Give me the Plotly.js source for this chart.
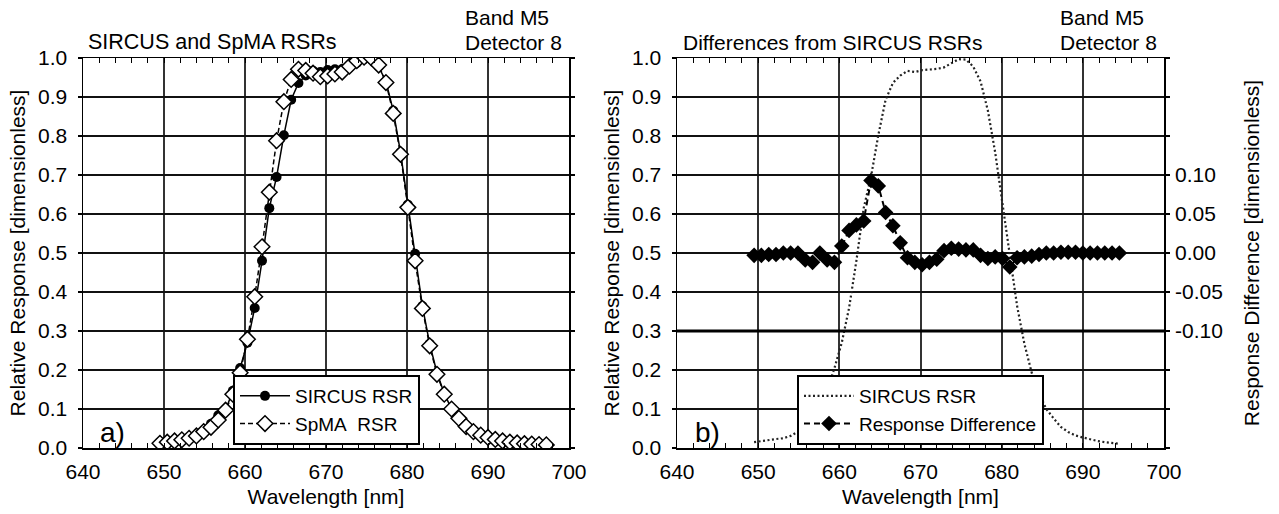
<!DOCTYPE html>
<html>
<head>
<meta charset="utf-8">
<script src="https://cdn.plot.ly/plotly-3.0.1.min.js"></script>
<style>html,body{margin:0;padding:0;background:#fff;}#chart{width:1279px;height:514px;}</style>
</head>
<body>
<div id="chart"></div>
<script>
// Wavelengths (nm) for SIRCUS RSR and response difference
const wavelength = [649.5, 650.4, 651.3, 652.2, 653.1, 654.0, 654.9, 655.8, 656.7, 657.6,
  658.5, 659.4, 660.3, 661.2, 662.1, 663.0, 663.9, 664.8, 665.7, 666.6,
  667.5, 668.4, 669.3, 670.2, 671.1, 672.0, 672.9, 673.8, 674.7, 675.6,
  676.5, 677.4, 678.3, 679.2, 680.1, 681.0, 681.9, 682.8, 683.7, 684.6,
  685.5, 686.4, 687.3, 688.2, 689.1, 690.0, 690.9, 691.8, 692.7, 693.6, 694.5];

// Wavelengths (nm) for SpMA RSR (extends slightly further)
const wavelengthSpMA = [649.5, 650.4, 651.3, 652.2, 653.1, 654.0, 654.9, 655.8, 656.7, 657.6,
  658.5, 659.4, 660.3, 661.2, 662.1, 663.0, 663.9, 664.8, 665.7, 666.6,
  667.5, 668.4, 669.3, 670.2, 671.1, 672.0, 672.9, 673.8, 674.7, 675.6,
  676.5, 677.4, 678.3, 679.2, 680.1, 681.0, 681.9, 682.8, 683.7, 684.6,
  685.5, 686.4, 687.3, 688.2, 689.1, 690.0, 690.9, 691.8, 692.7, 693.6, 694.5,
  695.4, 696.3, 697.2];

// SIRCUS relative spectral response
const sircusRSR = [0.015, 0.018, 0.020, 0.023, 0.025, 0.031, 0.042, 0.062, 0.084, 0.097,
  0.147, 0.205, 0.270, 0.359, 0.480, 0.615, 0.695, 0.802, 0.893, 0.936,
  0.955, 0.967, 0.964, 0.969, 0.971, 0.972, 0.976, 0.987, 0.997, 0.996,
  0.978, 0.940, 0.865, 0.758, 0.624, 0.498, 0.364, 0.267, 0.193, 0.140,
  0.100, 0.076, 0.054, 0.041, 0.032, 0.027, 0.022, 0.018, 0.015, 0.013, 0.011];

// SpMA relative spectral response
const spmaRSR = [0.012, 0.015, 0.018, 0.021, 0.025, 0.031, 0.042, 0.053, 0.072, 0.097,
  0.138, 0.193, 0.279, 0.388, 0.516, 0.656, 0.788, 0.888, 0.945, 0.971,
  0.968, 0.961, 0.952, 0.954, 0.959, 0.964, 0.979, 0.993, 1.002, 1.000,
  0.982, 0.937, 0.858, 0.753, 0.617, 0.480, 0.358, 0.262, 0.189, 0.138,
  0.100, 0.076, 0.055, 0.042, 0.033, 0.027, 0.022, 0.018, 0.015, 0.013, 0.011,
  0.010, 0.009, 0.008];

// Response difference (SpMA - SIRCUS)
const responseDiff = [-0.003, -0.003, -0.002, -0.002, 0.000, 0.000, 0.000, -0.009, -0.012, 0.000,
  -0.009, -0.012, 0.009, 0.029, 0.036, 0.041, 0.093, 0.086, 0.052, 0.035,
  0.013, -0.006, -0.012, -0.015, -0.012, -0.008, 0.003, 0.006, 0.005, 0.004,
  0.004, -0.003, -0.007, -0.005, -0.007, -0.018, -0.006, -0.005, -0.004, -0.002,
  0.000, 0.000, 0.001, 0.001, 0.001, 0.000, 0.000, 0.000, 0.000, 0.000, 0.000];

const xTicks = [640, 650, 660, 670, 680, 690, 700];
const yTicks = [0.0, 0.1, 0.2, 0.3, 0.4, 0.5, 0.6, 0.7, 0.8, 0.9, 1.0];
const diffTicks = [-0.10, -0.05, 0.00, 0.05, 0.10];

const FONT = 'Liberation Sans, Arial, Helvetica, sans-serif';
const W = 1279, H = 514;
const px = v => v / W;
const py = v => 1 - v / H;

const traces = [
  {x: wavelength, y: sircusRSR, name: 'SIRCUS RSR', type: 'scatter', mode: 'lines+markers',
   xaxis: 'x', yaxis: 'y', legend: 'legend',
   line: {color: '#000', width: 1.5},
   marker: {symbol: 'circle', size: 10, color: '#000'}},
  {x: wavelengthSpMA, y: spmaRSR, name: 'SpMA\u00a0 RSR', type: 'scatter', mode: 'lines+markers',
   xaxis: 'x', yaxis: 'y', legend: 'legend',
   line: {color: '#000', width: 1.5, dash: '5px,3px'},
   marker: {symbol: 'diamond', size: 12, color: '#fff', line: {color: '#000', width: 1.5}}},
  {x: wavelength, y: sircusRSR, name: 'SIRCUS RSR', type: 'scatter', mode: 'lines',
   xaxis: 'x2', yaxis: 'y2', legend: 'legend2',
   line: {color: '#222', width: 2.2, dash: '2px,2.5px'}},
  {x: wavelength, y: responseDiff, name: 'Response Difference', type: 'scatter', mode: 'lines+markers',
   xaxis: 'x2', yaxis: 'y3', legend: 'legend2',
   line: {color: '#000', width: 2, dash: '6px,4px'},
   marker: {symbol: 'diamond', size: 12, color: '#000'}}
];

function xAxis(d0, d1, anchor) {
  return {
    domain: [px(d0), px(d1)], anchor: anchor, range: [640, 700],
    tickvals: xTicks, ticktext: xTicks.map(String),
    ticks: 'inside', ticklen: 5, tickcolor: '#000', tickwidth: 1,
    minor: {dtick: 2, tick0: 640, ticks: 'inside', ticklen: 5, tickcolor: '#000', tickwidth: 1, showgrid: false},
    showgrid: true, gridcolor: '#333', gridwidth: 2,
    showline: true, linecolor: '#000', linewidth: 1.5, mirror: 'allticks',
    zeroline: false, ticklabelstandoff: 4,
    tickfont: {family: FONT, size: 21, color: '#000'},
    title: {text: 'Wavelength [nm]', font: {family: FONT, size: 21, color: '#000'}, standoff: 7}
  };
}
function yAxis(anchor, titleText) {
  return {
    domain: [1 - 448 / H, 1 - 58 / H], anchor: anchor, range: [0, 1],
    tickvals: yTicks, ticktext: yTicks.map(v => v.toFixed(1)),
    ticks: 'outside', ticklen: 4, tickcolor: '#000', tickwidth: 1.5,
    showgrid: true, gridcolor: '#111', gridwidth: 2,
    showline: true, linecolor: '#000', linewidth: 1.5, mirror: 'allticks',
    zeroline: false, ticklabelstandoff: 6,
    tickfont: {family: FONT, size: 21, color: '#000'},
    title: {text: titleText, font: {family: FONT, size: 21, color: '#000'}, standoff: 6}
  };
}

const layout = {
  width: W, height: H,
  margin: {l: 0, r: 0, t: 0, b: 0},
  paper_bgcolor: '#fff', plot_bgcolor: '#fff',
  font: {family: FONT, size: 21, color: '#000'},
  xaxis: xAxis(83, 569, 'y'),
  yaxis: yAxis('x', 'Relative Response [dimensionless]'),
  xaxis2: xAxis(677, 1164, 'y2'),
  yaxis2: yAxis('x2', 'Relative Response [dimensionless]'),
  yaxis3: {
    overlaying: 'y2', side: 'right', anchor: 'x2', range: [-0.25, 0.25],
    tickvals: diffTicks, ticktext: diffTicks.map(v => v.toFixed(2)),
    ticks: '', showgrid: false, zeroline: false, showline: false,
    ticklabelstandoff: 10,
    tickfont: {family: FONT, size: 21, color: '#000'},
    title: {text: 'Response Difference [dimensionless]', font: {family: FONT, size: 21, color: '#000'}, standoff: 22}
  },
  showlegend: true,
  legend: {
    x: px(233), y: py(375), xanchor: 'left', yanchor: 'top', xref: 'paper', yref: 'paper',
    bgcolor: '#fff', bordercolor: '#000', borderwidth: 2,
    font: {family: FONT, size: 19, color: '#000'}, itemwidth: 50, tracegroupgap: 0
  },
  legend2: {
    x: px(797), y: py(375), xanchor: 'left', yanchor: 'top', xref: 'paper', yref: 'paper',
    bgcolor: '#fff', bordercolor: '#000', borderwidth: 2,
    font: {family: FONT, size: 19, color: '#000'}, itemwidth: 50, tracegroupgap: 0
  },
  shapes: [
    {type: 'line', xref: 'x2 domain', yref: 'y3', x0: 0, x1: 1, y0: -0.10, y1: -0.10,
     line: {color: '#000', width: 3}, layer: 'above'}
  ],
  annotations: [
    {text: 'SIRCUS and SpMA RSRs', xref: 'paper', yref: 'paper', x: px(86), y: py(42), xanchor: 'left', yanchor: 'middle', showarrow: false, font: {size: 21.5}},
    {text: 'Band M5', xref: 'paper', yref: 'paper', x: px(463), y: py(18), xanchor: 'left', yanchor: 'middle', showarrow: false, font: {size: 21}},
    {text: 'Detector 8', xref: 'paper', yref: 'paper', x: px(463), y: py(42), xanchor: 'left', yanchor: 'middle', showarrow: false, font: {size: 21}},
    {text: 'Differences from SIRCUS RSRs', xref: 'paper', yref: 'paper', x: px(681), y: py(42), xanchor: 'left', yanchor: 'middle', showarrow: false, font: {size: 21}},
    {text: 'Band M5', xref: 'paper', yref: 'paper', x: px(1058), y: py(18), xanchor: 'left', yanchor: 'middle', showarrow: false, font: {size: 21}},
    {text: 'Detector 8', xref: 'paper', yref: 'paper', x: px(1058), y: py(42), xanchor: 'left', yanchor: 'middle', showarrow: false, font: {size: 21}},
    {text: 'a)', xref: 'paper', yref: 'paper', x: px(98), y: py(432), xanchor: 'left', yanchor: 'middle', showarrow: false, font: {size: 28}},
    {text: 'b)', xref: 'paper', yref: 'paper', x: px(693), y: py(432), xanchor: 'left', yanchor: 'middle', showarrow: false, font: {size: 28}}
  ]
};

Plotly.newPlot('chart', traces, layout, {staticPlot: true, displayModeBar: false});
</script>
</body>
</html>
